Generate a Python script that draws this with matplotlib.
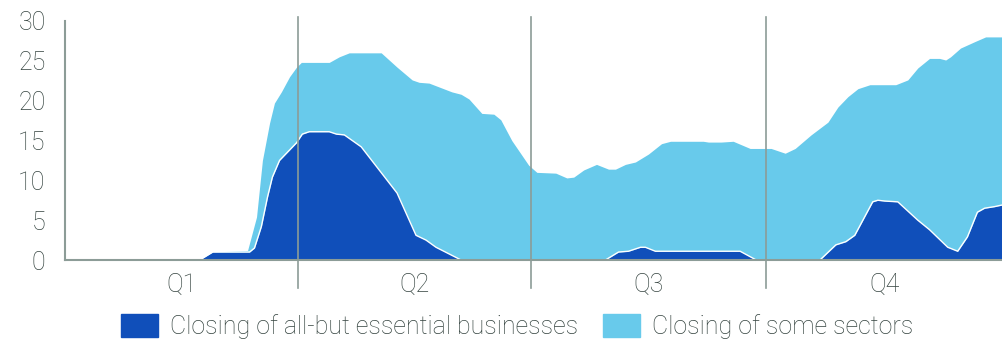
import matplotlib.pyplot as plt
from matplotlib.patches import Patch

# ==========================================
# DATA (day of year, share in %)
# ==========================================

some_days = [0, 52.6, 57.7, 71.3, 74.8, 77.1, 79.9, 81.8, 84.5, 87.7, 90.4, 92.3, 103.2, 107.1,
             111, 123.5, 129.7, 135.6, 138.3, 142.2, 151.1, 154.7, 157.8, 162.8,
             167.5, 170.2, 174.5, 181.1, 184.3, 191.7, 196, 198.7, 202.6, 207.6,
             212.3, 215, 218.9, 222.8, 227.9, 233, 236.5, 249.3, 251.3, 256.3, 261,
             267.6, 275.8, 281.3, 285.2, 291.4, 298, 301.9, 305.8, 309.7, 314.4,
             324.5, 329.2, 333.1, 337.7, 341.6, 344, 345.9, 349.8, 355.3, 359.6, 366]
some_vals = [0, 0, 1.0, 1.2, 5.4, 12.5, 17.2, 19.7, 21.1, 23, 24.2, 24.8, 24.8, 25.5,
             26, 26, 24.2, 22.6, 22.3, 22.2, 21.1, 20.8, 20.2, 18.4,
             18.3, 17.6, 15, 11.9, 11, 10.9, 10.3, 10.4, 11.3, 12,
             11.4, 11.4, 12, 12.3, 13.3, 14.6, 14.9, 14.9, 14.8, 14.8, 14.9,
             14.0, 14.0, 13.4, 14, 15.7, 17.3, 19.2, 20.5, 21.5, 22,
             22, 22.6, 24.1, 25.3, 25.3, 25.1, 25.5, 26.6, 27.4, 28, 28]

all_days = [0, 52.6, 57.7, 72.1, 74, 76.7, 79.1, 81, 83.8, 86.5, 90.4, 92.7, 95.4,
            103.2, 106, 109.1, 115.7, 122.7, 129.7, 137.1, 141, 144.9, 154.7,
            211.1, 216.2, 220.1, 224.8, 226.7, 230.6, 263.7, 270, 294.9, 301.1,
            305, 308.5, 315.5, 317.5, 320.2, 325.3, 333.1, 337.7, 344.8, 348.7,
            352.5, 356.4, 359.2, 363.1, 366]
all_vals = [0, 0, 1.0, 1.0, 1.5, 4.2, 7.9, 10.4, 12.5, 13.4, 14.7, 15.8, 16.1,
            16.1, 15.8, 15.7, 14.2, 11.3, 8.4, 3.1, 2.5, 1.6, 0,
            0, 1.0, 1.1, 1.6, 1.6, 1.1, 1.1, 0, 0, 1.9,
            2.3, 3.1, 7.3, 7.5, 7.4, 7.3, 5, 3.8, 1.6, 1.1,
            2.9, 6.0, 6.5, 6.7, 6.9]

quarter_edges = [91, 182, 274]
quarter_mids = [45.5, 136.5, 228, 320]
quarter_labels = ["Q1", "Q2", "Q3", "Q4"]

DARK = "#104fba"
LIGHT = "#68caeb"
GREY = "#8c9c97"
TEXT = "#34433f"

# ==========================================
# PLOT
# ==========================================

plt.rcParams["font.family"] = ["Roboto", "DejaVu Sans"]
plt.rcParams["font.weight"] = "light"

fig = plt.figure(figsize=(10.02, 3.41), dpi=100)
ax = fig.add_axes([0.0649, 0.2375, 0.9351, 0.701])

ax.fill_between(some_days, some_vals, 0, color=LIGHT, lw=0)
ax.fill_between(all_days, all_vals, 0, color=DARK, lw=0)
ax.plot(all_days, all_vals, color="white", lw=1)

for q in quarter_edges:
    ax.axvline(q, ymin=-0.117, ymax=1.017, color=GREY, lw=1.2, clip_on=False)

ax.set_xlim(0, 366)
ax.set_ylim(0, 30)
ax.set_yticks(range(0, 31, 5))
ax.set_xticks(quarter_mids)
ax.set_xticklabels(quarter_labels)
ax.tick_params(axis="y", length=0, pad=14, labelsize=18, labelcolor=TEXT)
ax.tick_params(axis="x", length=0, pad=9, labelsize=18, labelcolor=TEXT)

for side in ["top", "right"]:
    ax.spines[side].set_visible(False)
for side in ["left", "bottom"]:
    ax.spines[side].set_color(GREY)
    ax.spines[side].set_linewidth(1.5)
    ax.spines[side].set_zorder(5)

handles = [
    Patch(color=DARK, label="Closing of all-but essential businesses"),
    Patch(color=LIGHT, label="Closing of some sectors"),
]
leg = fig.legend(
    handles=handles,
    loc="lower center",
    bbox_to_anchor=(0.516, -0.06),
    ncol=2,
    frameon=False,
    fontsize=18,
    handlelength=1.48,
    handleheight=1.0,
    handletextpad=0.48,
    columnspacing=1.0,
)
for t in leg.get_texts():
    t.set_color(TEXT)

fig.savefig("out.png", dpi=100)
